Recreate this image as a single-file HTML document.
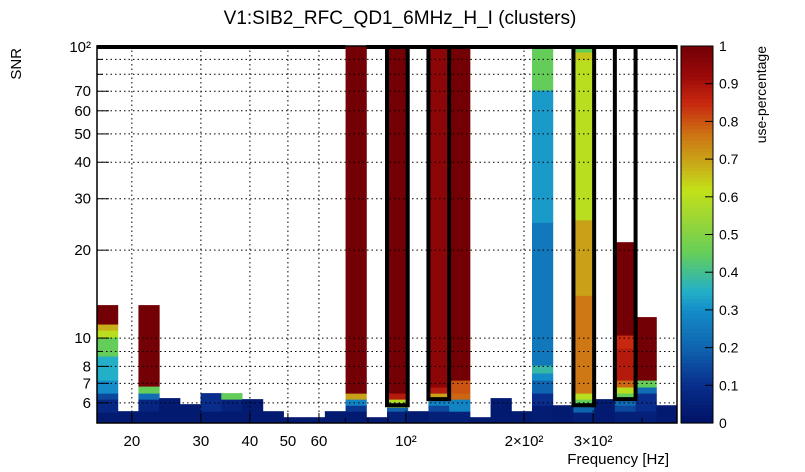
<!DOCTYPE html>
<html><head><meta charset="utf-8"><style>
body{margin:0;background:#fff}
svg{display:block;font-family:"Liberation Sans",sans-serif}
</style></head><body>
<svg id="c" width="805" height="472"></svg>
<script>
// --- data ---
const xMinHz = 16.3, xMaxHz = 491, nBins = 28;
const yMin = 5.12, yMax = 100;
// per-bin stacked segments: [snrTop, usePercentage], from bottom up
const bins = [
 [[5.58,0.03],[6.18,0.08],[6.48,0.15],[7.18,0.3],[8.68,0.35],[10.08,0.45],[10.65,0.6],[11.17,0.68],[12.97,1.0]],
 [[5.62,0.03]],
 [[5.62,0.03],[6.18,0.07],[6.48,0.22],[6.85,0.45],[12.97,1.0]],
 [[6.23,0.03]],
 [[5.94,0.03]],
 [[5.62,0.03],[6.48,0.1]],
 [[5.62,0.03],[6.18,0.06],[6.48,0.45]],
 [[6.18,0.03]],
 [[5.62,0.03]],
 [[5.36,0.03]],
 [[5.36,0.03]],
 [[5.62,0.03]],
 [[5.62,0.03],[5.89,0.12],[6.18,0.28],[6.48,0.7],[100,1.0]],
 [[5.36,0.03]],
 [[5.62,0.05],[5.80,0.2],[6.18,0.58],[6.48,0.88],[100,1.0]],
 [[5.62,0.03]],
 [[5.62,0.05],[5.89,0.15],[6.18,0.28],[6.48,0.7],[6.80,0.88],[100,0.95]],
 [[5.62,0.05],[6.18,0.28],[6.48,0.78],[7.18,0.8],[100,1.0]],
 [[5.36,0.03]],
 [[6.23,0.03]],
 [[5.62,0.03]],
 [[5.89,0.04],[6.48,0.1],[7.18,0.2],[7.59,0.3],[8.08,0.38],[24.9,0.25],[70.7,0.32],[100,0.45]],
 [[5.89,0.03]],
 [[5.58,0.05],[5.89,0.2],[6.18,0.45],[6.48,0.6],[14.0,0.76],[25.4,0.7],[89.6,0.6],[95.4,0.65],[100,0.45]],
 [[6.18,0.03]],
 [[5.62,0.05],[5.89,0.15],[6.18,0.22],[6.48,0.45],[6.80,0.6],[7.18,0.78],[9.24,0.88],[10.24,0.85],[21.3,1.0]],
 [[5.62,0.05],[6.48,0.1],[6.80,0.22],[7.18,0.45],[11.8,1.0]],
 [[5.89,0.03]]
];
const outlined = [14, 16, 23, 25];
const outlineBottom = [5.89, 6.18, 5.89, 6.18];
const xTicks = [20,30,40,50,60,100,200,300];
const xTickLabels = ["20","30","40","50","60","10²","2×10²","3×10²"];
const yGrid = [6,7,8,9,10,20,30,40,50,60,70,80,90];
const yTicks = [6,7,8,10,20,30,40,50,60,70];
const zTicks = [0,0.1,0.2,0.3,0.4,0.5,0.6,0.7,0.8,0.9,1];

// --- geometry ---
const L=97,R=677,T=46,B=423;
const X=v=>L+(Math.log10(v)-Math.log10(xMinHz))/(Math.log10(xMaxHz)-Math.log10(xMinHz))*(R-L);
const Y=v=>B-(Math.log10(v)-Math.log10(yMin))/(Math.log10(yMax)-Math.log10(yMin))*(B-T);
const bw=(R-L)/nBins;
const stops=[[0,[0,18,100]],[0.1,[8,45,140]],[0.2,[15,100,175]],[0.3,[20,140,200]],[0.35,[35,175,200]],[0.45,[100,205,90]],[0.55,[160,215,50]],[0.62,[195,225,25]],[0.68,[200,175,25]],[0.76,[205,120,20]],[0.85,[200,40,15]],[0.92,[155,10,10]],[1,[115,0,5]]];
function col(v){for(let i=1;i<stops.length;i++){if(v<=stops[i][0]){const a=stops[i-1],b=stops[i],t=(v-a[0])/(b[0]-a[0]);return 'rgb('+a[1].map((c,k)=>Math.round(c+(b[1][k]-c)*t)).join(',')+')';}}return 'rgb(115,0,5)';}
const svg=document.getElementById('c');const NS='http://www.w3.org/2000/svg';
function add(tag,attrs,text){const e=document.createElementNS(NS,tag);for(const k in attrs)e.setAttribute(k,attrs[k]);if(text!==undefined)e.textContent=text;svg.appendChild(e);return e;}

// cells
bins.forEach((segs,i)=>{let lo=yMin;segs.forEach((s,j)=>{const x0=L+i*bw;
 const r=add('rect',{x:x0,y:Y(s[0]),width:bw+0.5,height:Y(lo)-Y(s[0])+0.5,fill:col(s[1])});
 
 
 lo=s[0];});});
// grid
xTicks.forEach(v=>{const g=add('line',{x1:X(v),x2:X(v),y1:T,y2:B,stroke:'#000','stroke-dasharray':'1.5,3','stroke-width':1});});
yGrid.forEach(v=>{const g=add('line',{x1:L,x2:R,y1:Y(v),y2:Y(v),stroke:'#000','stroke-dasharray':'1.5,3','stroke-width':1});});
// outlines
add('line',{x1:L,x2:L+12*bw,y1:T+1,y2:T+1,stroke:'#000','stroke-width':4,});
add('line',{x1:L+13*bw,x2:R,y1:T+1,y2:T+1,stroke:'#000','stroke-width':4,});
outlined.forEach((b,k)=>{const o=add('rect',{x:L+b*bw,y:T+1,width:bw,height:Y(outlineBottom[k])-T-1,fill:'none',stroke:'#000','stroke-width':4});
 
 });
// frame
add('rect',{x:L,y:T,width:R-L,height:B-T,fill:'none',stroke:'#000','stroke-width':1.5,});
// x ticks
xTicks.forEach((v,i)=>{add('line',{x1:X(v),x2:X(v),y1:B,y2:B-10,stroke:'#000'});
 const t=add('text',{x:X(v),y:446,'font-size':15,'text-anchor':'middle'},xTickLabels[i]);
 
 });
[70,80,90,400].forEach(v=>add('line',{x1:X(v),x2:X(v),y1:B,y2:B-5,stroke:'#000'}));
// y ticks
yGrid.concat([100]).forEach(v=>add('line',{x1:L,x2:L+(yTicks.includes(v)||v==100?12:6),y1:Y(v),y2:Y(v),stroke:'#000'}));
yTicks.forEach(v=>{const t=add('text',{x:L-6,y:Y(v)+5,'font-size':15,'text-anchor':'end'},String(v));
 
 });
add('text',{x:L-6,y:T+6,'font-size':15,'text-anchor':'end',},'10²');
// colorbar
const CL=681,CR=713;
for(let k=0;k<100;k++){const v=(k+0.5)/100;add('rect',{x:CL,y:B-(k+1)/100*(B-T),width:CR-CL,height:(B-T)/100+0.6,fill:col(v)});}
add('rect',{x:CL,y:T,width:CR-CL,height:B-T,fill:'none',stroke:'#000','stroke-width':1,});
zTicks.forEach(v=>{const y=B-v*(B-T);add('line',{x1:CR-8,x2:CR,y1:y,y2:y,stroke:'#000'});
 const t=add('text',{x:CR+6,y:y+5,'font-size':14},String(v));
 
 });
// labels
add('text',{x:400,y:24,'font-size':19,'text-anchor':'middle',},'V1:SIB2_RFC_QD1_6MHz_H_I (clusters)');
add('text',{x:669,y:464,'font-size':15,'text-anchor':'end',},'Frequency [Hz]');
add('text',{x:0,y:0,'font-size':15,'text-anchor':'end',transform:'translate(21,48) rotate(-90)',},'SNR');
add('text',{x:0,y:0,'font-size':14,'text-anchor':'end',transform:'translate(766,46) rotate(-90)',},'use-percentage');
</script>
</body></html>
